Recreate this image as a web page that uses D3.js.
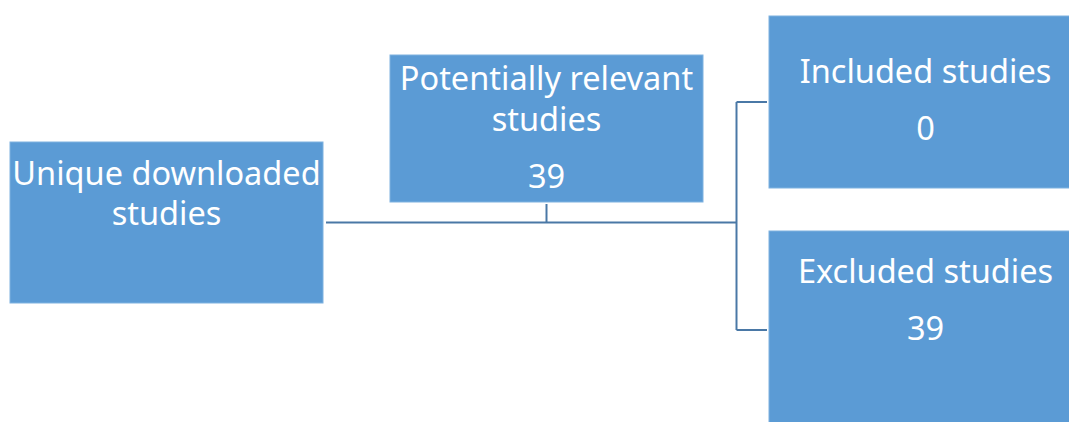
<!DOCTYPE html>
<html>
<head>
<meta charset="utf-8">
<script src="https://cdn.jsdelivr.net/npm/d3@7"></script>
<style>
  body { margin: 0; background: #fff; }
  svg text { font-family: "Noto Sans", "Open Sans", sans-serif; fill: #fff; }
</style>
</head>
<body>
<svg id="flow" width="1069" height="422"></svg>
<script>
// node texts and counts
const nodeNames = ["unique", "relevant", "included", "excluded"];
const nodeLabels = [["Unique downloaded", "studies"], ["Potentially relevant", "studies"], ["Included studies"], ["Excluded studies"]];
const nodeCounts = ["", "39", "0", "39"];

// layout (pixels)
const boxW = 313;
const fontSize = 32.5;
const boxes = {
  unique:   { x: 10,  y: 142, h: 161, lines: [185, 225], countY: null },
  relevant: { x: 390, y: 55,  h: 147, lines: [90, 131], countY: 188 },
  included: { x: 769, y: 16,  h: 172, lines: [83], countY: 140 },
  excluded: { x: 769, y: 231, h: 200, lines: [283], countY: 340 }
};

const nodes = nodeNames.map((n, i) => Object.assign({ name: n, label: nodeLabels[i], count: nodeCounts[i] }, boxes[n]));

const svg = d3.select("#flow");

// connectors
const trunkY = 222.5, forkX = 736.5;
const links = [
  [[326, trunkY], [forkX, trunkY]],
  [[546.5, 204], [546.5, trunkY]],
  [[forkX, 102], [forkX, 330]],
  [[forkX, 102], [767, 102]],
  [[forkX, 330], [767, 330]]
];
svg.append("g")
  .selectAll("path")
  .data(links)
  .enter()
  .append("path")
  .attr("d", d3.line())
  .attr("fill", "none")
  .attr("stroke", "#4a78a6")
  .attr("stroke-width", 2);

const nodeG = svg.append("g")
  .selectAll("g")
  .data(nodes)
  .enter()
  .append("g")
  .attr("class", "node");

nodeG.append("rect")
  .attr("x", d => d.x)
  .attr("y", d => d.y)
  .attr("width", boxW)
  .attr("height", d => d.h)
  .attr("fill", "#5b9bd5")
  .attr("stroke", "#7fb2e0")
  .attr("stroke-width", 1);

nodeG.each(function(d) {
  const g = d3.select(this);
  d.label.forEach((t, i) => {
    g.append("text")
      .attr("x", d.x + boxW / 2)
      .attr("y", d.lines[i])
      .attr("text-anchor", "middle")
      .attr("font-size", fontSize)
      .text(t);
  });
  if (d.count !== "") {
    g.append("text")
      .attr("x", d.x + boxW / 2)
      .attr("y", d.countY)
      .attr("text-anchor", "middle")
      .attr("font-size", fontSize)
      .text(d.count);
  }
});
</script>
</body>
</html>
